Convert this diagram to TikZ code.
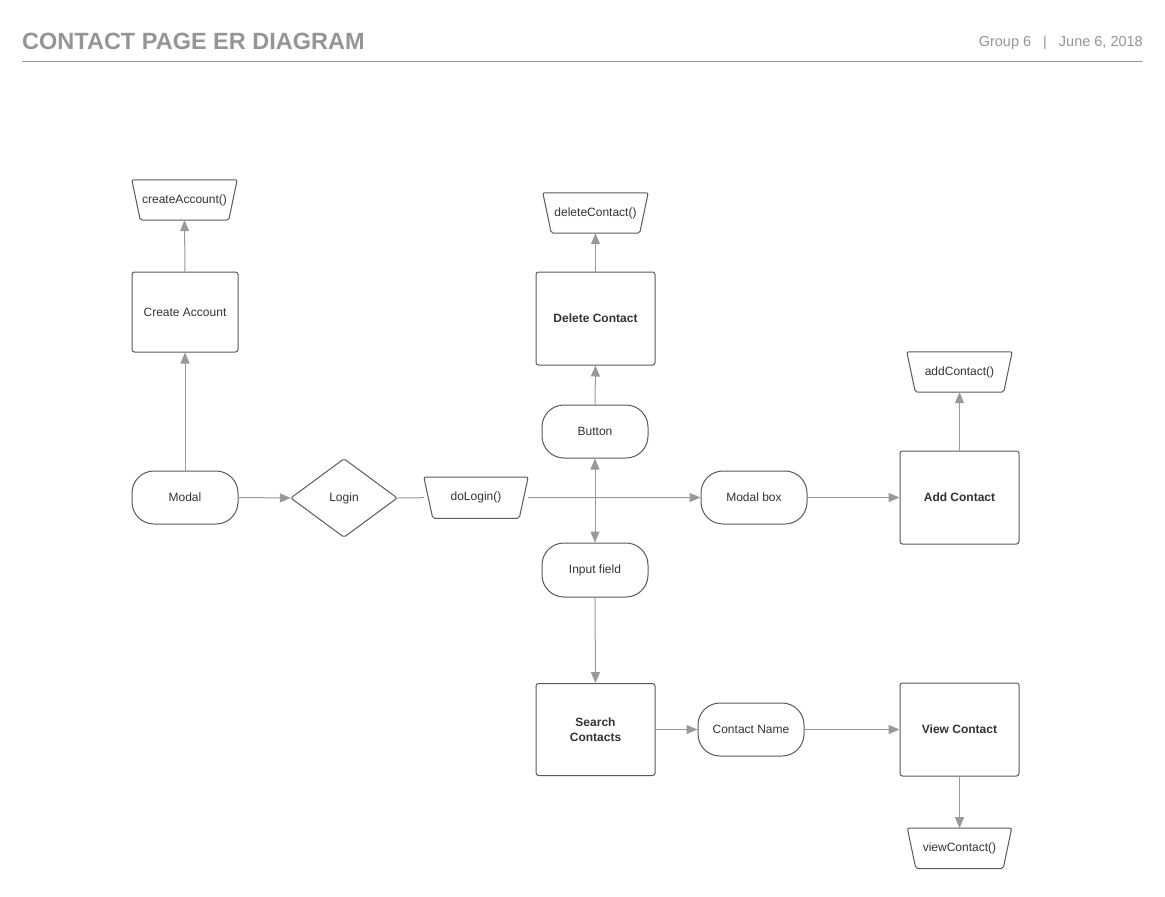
\documentclass[tikz,border=0pt]{standalone}
\usepackage{fontspec}
\setmainfont{Liberation Sans}
\usetikzlibrary{arrows.meta,calc}
\definecolor{edgec}{HTML}{5A5A5A}
\definecolor{arrc}{HTML}{999999}
\definecolor{txtc}{HTML}{333333}
\definecolor{headc}{HTML}{959595}
\tikzset{
  base/.style={inner sep=0pt, text=txtc, font=\fontsize{12}{14.5}\selectfont, align=center},
  boxn/.style={base, draw=edgec, line width=1pt, rounded corners=2.5pt, minimum width=119pt, minimum height=93pt},
  bboxn/.style={boxn, font=\fontsize{12}{14.5}\selectfont\bfseries},
  plainbox/.style={base, draw=edgec, line width=1pt, rounded corners=2.5pt, minimum width=106pt, minimum height=80pt},
  pill/.style={base, draw=edgec, line width=1pt, rounded corners=22pt, minimum width=106pt, minimum height=53pt},
  fnhold/.style={base, minimum width=105pt, minimum height=40pt},
  dhold/.style={base, minimum width=106pt, minimum height=78pt},
  shapeline/.style={draw=edgec, line width=1pt},
  arr/.style={draw=arrc, line width=1pt, -{Triangle[length=11pt,width=9pt]}},
  conn/.style={draw=arrc, line width=1pt}
}
\begin{document}
\begin{tikzpicture}[x=1pt,y=-1pt]
\useasboundingbox (0,0) rectangle (1165,897);
\fill[white] (0,0) rectangle (1165,897);
% header
\node[anchor=west, inner sep=0pt, text=headc, font=\fontsize{23.5}{27}\selectfont\bfseries] (title) at (22,41) {CONTACT PAGE ER DIAGRAM};
\node[anchor=east, inner sep=0pt, text=headc, font=\fontsize{14.5}{17}\selectfont] (meta) at (1143,43) {Group 6\hspace{12pt}|\hspace{12pt}June 6, 2018};
\coordinate (hl) at (22,61);
\coordinate (hr) at (1143,61);
\draw[draw=arrc, line width=1pt] (hl) -- (hr);

% nodes
\node[fnhold] (fca) at (184.5,200) {createAccount()};
\node[plainbox] (ca) at (185,312) {Create Account};
\node[pill] (modal) at (185,497.5) {Modal};
\node[dhold] (login) at (344,498) {Login};
\node[fnhold, minimum width=104pt, minimum height=41pt] (dologin) at (476,497.7) {doLogin()};
\node[pill] (button) at (595,431.5) {Button};
\node[bboxn] (del) at (595.5,318.5) {Delete Contact};
\node[fnhold] (fdel) at (595.5,213) {deleteContact()};
\node[pill, minimum height=54pt] (input) at (595,570) {Input field};
\node[bboxn, minimum height=92pt] (search) at (595.5,729.5) {Search\\Contacts};
\node[pill] (cname) at (751,729.5) {Contact Name};
\node[bboxn] (view) at (959.5,729.5) {View Contact};
\node[fnhold, minimum width=104pt] (fview) at (959.5,848.3) {viewContact()};
\node[pill] (mbox) at (754,497.5) {Modal box};
\node[bboxn] (add) at (959.5,497.5) {Add Contact};
\node[fnhold] (fadd) at (959.5,372) {addContact()};

% trapezoid outlines
\foreach \n/\d in {fca/8.5, dologin/9, fdel/8.5, fview/8.5, fadd/8.5}{
  \draw[shapeline, rounded corners=2pt] (\n.north west) -- (\n.north east) -- ([xshift=-\d pt]\n.south east) -- ([xshift=\d pt]\n.south west) -- cycle;
}
% diamond outline
\draw[shapeline, rounded corners=2pt] (login.north) -- (login.east) -- (login.south) -- (login.west) -- cycle;

% connectors
\draw[arr] (modal.north) -- (ca.south);
\draw[arr] (ca.north) -- (fca.south);
\draw[arr] (modal.east) -- (login.west);
\draw[conn] (login.east) -- (dologin.west);
\draw[arr] (dologin.east) -- (mbox.west);
\coordinate (junc) at (button.south |- dologin.east);
\draw[arr] (junc) -- (button.south);
\draw[arr] (junc) -- (input.north);
\draw[arr] (button.north) -- (del.south);
\draw[arr] (del.north) -- (fdel.south);
\draw[arr] (mbox.east) -- (add.west);
\draw[arr] (add.north) -- (fadd.south);
\draw[arr] (input.south) -- (search.north);
\draw[arr] (search.east) -- (cname.west);
\draw[arr] (cname.east) -- (view.west);
\draw[arr] (view.south) -- (fview.north);
\end{tikzpicture}
\end{document}
